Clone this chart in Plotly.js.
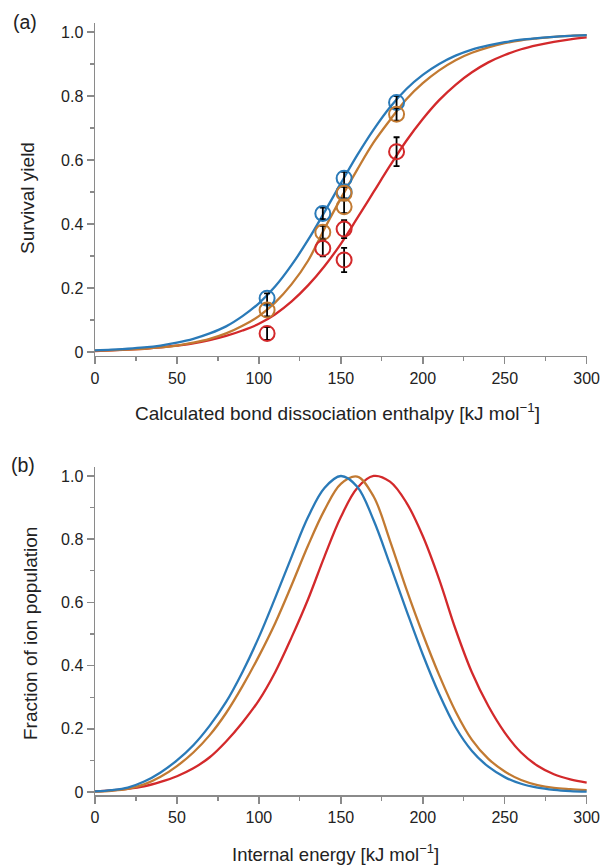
<!DOCTYPE html>
<html>
<head>
<meta charset="utf-8">
<script src="https://cdn.plot.ly/plotly-3.0.1.min.js"></script>
<style>
html,body{margin:0;padding:0;background:#fff;}
#chart{width:600px;height:867px;}
</style>
</head>
<body>
<div id="chart"></div>
<script>
// ---------- Panel (a): survival yield vs calculated BDE ----------
const bdeGrid = [0,10,20,30,40,50,60,70,80,90,100,110,120,130,140,150,160,170,180,190,200,210,220,230,240,250,260,270,280,290,300];
const survFitBlue   = [0.005,0.007,0.010,0.014,0.020,0.029,0.041,0.058,0.080,0.112,0.152,0.205,0.272,0.350,0.437,0.527,0.615,0.695,0.765,0.822,0.866,0.900,0.926,0.945,0.958,0.968,0.976,0.981,0.985,0.988,0.990];
const survFitOrange = [0.004,0.005,0.007,0.010,0.014,0.020,0.029,0.041,0.058,0.082,0.112,0.155,0.212,0.285,0.385,0.480,0.570,0.655,0.725,0.790,0.840,0.880,0.912,0.935,0.952,0.965,0.974,0.980,0.985,0.988,0.990];
const survFitRed    = [0.003,0.005,0.007,0.010,0.014,0.020,0.027,0.037,0.050,0.067,0.088,0.118,0.158,0.208,0.268,0.338,0.418,0.500,0.582,0.660,0.728,0.787,0.835,0.874,0.905,0.928,0.946,0.959,0.969,0.977,0.983];

const bdeBlue     = [105, 139, 152, 152, 184];
const yieldBlue   = [0.168, 0.433, 0.543, 0.500, 0.780];
const errBlue     = [0.015, 0.018, 0.020, 0.020, 0.020];
const bdeOrange   = [105, 139, 152, 152, 184];
const yieldOrange = [0.131, 0.374, 0.496, 0.454, 0.743];
const errOrange   = [0.020, 0.020, 0.020, 0.020, 0.020];
const bdeRed      = [105, 139, 152, 152, 184];
const yieldRed    = [0.058, 0.324, 0.384, 0.2875, 0.626];
const errRed      = [0.020, 0.025, 0.028, 0.038, 0.045];

// ---------- Panel (b): internal energy distributions ----------
const energyGrid = [0,10,20,30,40,50,60,70,80,90,100,110,120,130,140,150,160,170,180,190,200,210,220,230,240,250,260,270,280,290,300];
const popBlue   = [0.002,0.006,0.014,0.033,0.062,0.100,0.148,0.210,0.285,0.380,0.490,0.615,0.745,0.870,0.962,1.000,0.966,0.860,0.720,0.575,0.435,0.310,0.205,0.130,0.080,0.047,0.026,0.014,0.007,0.003,0.001];
const popOrange = [0.001,0.004,0.010,0.024,0.048,0.082,0.125,0.180,0.250,0.335,0.430,0.535,0.655,0.780,0.892,0.975,0.998,0.935,0.795,0.642,0.500,0.370,0.255,0.165,0.105,0.065,0.038,0.022,0.013,0.009,0.006];
const popRed    = [0.002,0.005,0.010,0.018,0.032,0.050,0.075,0.110,0.160,0.220,0.290,0.380,0.490,0.610,0.745,0.870,0.962,1.000,0.982,0.916,0.810,0.673,0.515,0.378,0.272,0.188,0.125,0.083,0.056,0.040,0.030];

const xTickVals = [0,50,100,150,200,250,300];
const xTickText = ['0','50','100','150','200','250','300'];
const yTickVals = [0,0.2,0.4,0.6,0.8,1.0];
const yTickText = ['0','0.2','0.4','0.6','0.8','1.0'];

const cBlue = '#2a7ab8', cOrange = '#c27a32', cRed = '#d3292b';
const FONT = 'Liberation Sans, Arial, Helvetica, sans-serif';

function fitLine(x, y, c, xa, ya) {
  return {x: x, y: y, xaxis: xa, yaxis: ya, type: 'scatter', mode: 'lines',
          line: {color: c, width: 2.3, shape: 'spline', smoothing: 1}, hoverinfo: 'skip', showlegend: false};
}
function pts(x, y, e, c) {
  return {x: x, y: y, xaxis: 'x', yaxis: 'y', type: 'scatter', mode: 'markers',
          marker: {symbol: 'circle-open', size: 15, color: c, line: {width: 2, color: c}},
          error_y: {type: 'data', array: e, visible: true, color: '#000', thickness: 1.8, width: 3},
          showlegend: false};
}

const data = [
  fitLine(bdeGrid, survFitRed, cRed, 'x', 'y'),
  fitLine(bdeGrid, survFitOrange, cOrange, 'x', 'y'),
  fitLine(bdeGrid, survFitBlue, cBlue, 'x', 'y'),
  pts(bdeBlue, yieldBlue, errBlue, cBlue),
  pts(bdeOrange, yieldOrange, errOrange, cOrange),
  pts(bdeRed, yieldRed, errRed, cRed),
  fitLine(energyGrid, popRed, cRed, 'x2', 'y2'),
  fitLine(energyGrid, popOrange, cOrange, 'x2', 'y2'),
  fitLine(energyGrid, popBlue, cBlue, 'x2', 'y2')
];

const axisCommon = {
  showgrid: false, zeroline: false, showline: true, linecolor: '#8a8a8a', linewidth: 1.5,
  ticks: 'outside', ticklen: 7, tickwidth: 1.5, tickcolor: '#8a8a8a',
  tickfont: {family: FONT, size: 16, color: '#222'}, mirror: false,
  ticklabeloverflow: 'allow'
};
const xCommon = Object.assign({}, axisCommon, {
  range: [0, 300.2], tickmode: 'array', tickvals: xTickVals, ticktext: xTickText,
  minor: {dtick: 25, tick0: 0, ticks: 'outside', ticklen: 4, tickwidth: 1.2, tickcolor: '#8a8a8a'}
});
const yCommon = Object.assign({}, axisCommon, {
  tickmode: 'array', tickvals: yTickVals, ticktext: yTickText,
  minor: {dtick: 0.1, tick0: 0, ticks: 'outside', ticklen: 4, tickwidth: 1.2, tickcolor: '#8a8a8a'}
});

const W = 492, H = 772, L = 95, T = 23;
function px(x) { return (x - L) / W; }
function py(y) { return (T + H - y) / H; }

const ann = (text, x, y, size, angle) => ({
  text: text, xref: 'paper', yref: 'paper', x: px(x), y: py(y), xanchor: 'center', yanchor: 'middle',
  showarrow: false, textangle: angle || 0, font: {family: FONT, size: size, color: '#222'}
});

const layout = {
  width: 600, height: 867,
  margin: {l: L, r: 600 - L - W, t: T, b: 867 - T - H},
  paper_bgcolor: '#fff', plot_bgcolor: '#fff',
  showlegend: false,
  xaxis: Object.assign({}, xCommon, {domain: [0, 1], anchor: 'y'}),
  yaxis: Object.assign({}, yCommon, {domain: [0.5687, 1], range: [-0.0125, 1.0281], anchor: 'x'}),
  xaxis2: Object.assign({}, xCommon, {domain: [0, 1], anchor: 'y2'}),
  yaxis2: Object.assign({}, yCommon, {domain: [0, 0.4249], range: [-0.0095, 1.0285], anchor: 'x2'}),
  annotations: [
    ann('(a)', 25, 22, 19.5),
    ann('(b)', 23, 465, 19.5),
    ann('Survival yield', 27, 198, 19, -90),
    ann('Fraction of ion population', 30, 634, 19, -90),
    ann('Calculated bond dissociation enthalpy [kJ mol<sup>−1</sup>]', 337, 412, 19),
    ann('Internal energy [kJ mol<sup>−1</sup>]', 335, 853, 18.5)
  ]
};

Plotly.newPlot('chart', data, layout, {staticPlot: true, displayModeBar: false});
</script>
</body>
</html>
